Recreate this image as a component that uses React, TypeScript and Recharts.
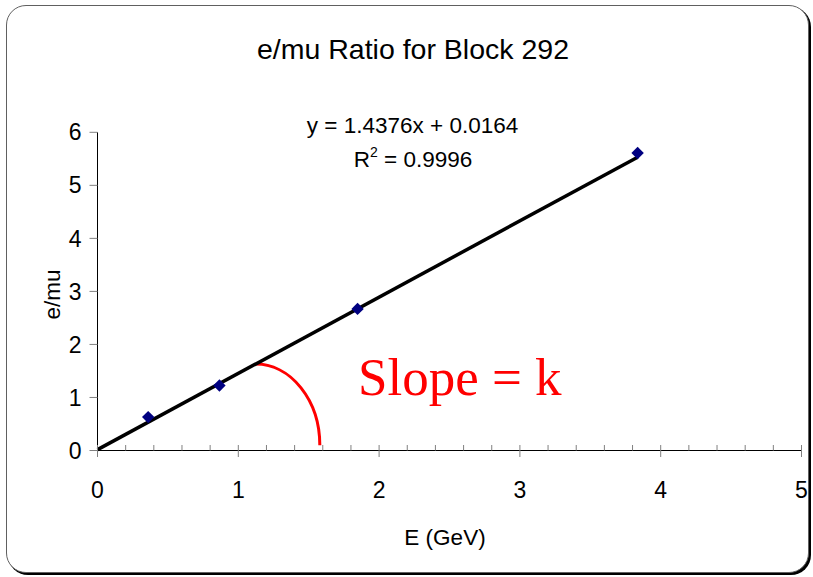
import React from 'react';
import {
  ScatterChart,
  Scatter,
  XAxis,
  YAxis,
  ReferenceLine,
  ReferenceArea,
  Customized,
} from 'recharts';

// Data
const energyGeV = [0.36, 0.866, 1.847, 3.836];
const eMuRatio = [0.63, 1.226, 2.67, 5.61];
const xTickLabels = [0, 1, 2, 3, 4, 5];
const yTickLabels = [0, 1, 2, 3, 4, 5, 6];
const trendSlope = 1.4376;
const trendIntercept = 0.0164;
const trendRange = [0, 3.836];
const arcBox = { x1: 1.123, x2: 1.579, y1: 0.1, y2: 1.63 };

const points = energyGeV.map((x, i) => ({ x, y: eMuRatio[i] }));
const minorTicks: number[] = [];
for (let i = 0; i <= 25; i++) minorTicks.push(Math.round(i * 20) / 100);

const FONT = '"Liberation Sans", Arial, sans-serif';
const SERIF = '"Liberation Serif", "Times New Roman", serif';

const Diamond = (props: any) => {
  const { cx, cy } = props;
  if (cx == null || cy == null) return null;
  const r = 6.2;
  return (
    <path
      d={`M${cx},${cy - r} L${cx + r},${cy} L${cx},${cy + r} L${cx - r},${cy} Z`}
      fill="#000080"
    />
  );
};

const XTick = (props: any) => {
  const { x, y, payload } = props;
  const v = payload.value as number;
  const major = Math.abs(v - Math.round(v)) < 1e-6;
  const isLabel = major && xTickLabels.indexOf(Math.round(v)) >= 0;
  return (
    <g>
      <line
        x1={x}
        x2={x}
        y1={y - 5.5}
        y2={major ? y + 6.5 : y}
        stroke="#808080"
        strokeWidth={1}
      />
      {isLabel && (
        <text x={x} y={y + 47.5} textAnchor="middle" fontSize={23} fontFamily={FONT} fill="#000">
          {v}
        </text>
      )}
    </g>
  );
};

const Annotations = () => (
  <g>
    <text x={413} y={59} textAnchor="middle" fontSize={28.5} fontFamily={FONT} fill="#000">
      e/mu Ratio for Block 292
    </text>
    <text x={412.5} y={133} textAnchor="middle" fontSize={22.5} fontFamily={FONT} fill="#000">
      y = 1.4376x + 0.0164
    </text>
    <text x={413} y={167} textAnchor="middle" fontSize={22.5} fontFamily={FONT} fill="#000">
      R
      <tspan dy={-10} fontSize={14}>
        2
      </tspan>
      <tspan dy={10}> = 0.9996</tspan>
    </text>
    <text x={358} y={395} fontSize={53} fontFamily={SERIF} fill="#ff0000">
      Slope = k
    </text>
    <text x={445} y={545} textAnchor="middle" fontSize={22.5} fontFamily={FONT} fill="#000">
      E (GeV)
    </text>
    <text
      x={60}
      y={294.5}
      textAnchor="middle"
      fontSize={22.5}
      fontFamily={FONT}
      fill="#000"
      transform="rotate(-90 60 294.5)"
    >
      e/mu
    </text>
  </g>
);

const ArcShape = (p: any) => {
  const { x, y, width, height } = p;
  if (x == null) return null;
  return (
    <path
      d={`M${x},${y} A${width},${height} 0 0 1 ${x + width},${y + height}`}
      stroke="#ff0000"
      strokeWidth={3}
      fill="none"
    />
  );
};

export default function App() {
  return (
    <div style={{ position: 'absolute', left: 0, top: 0, width: 813, height: 577 }}>
      <div
        style={{
          position: 'absolute',
          left: 6,
          top: 5,
          width: 801,
          height: 566,
          border: '1.5px solid #606060',
          borderRadius: 20,
          boxShadow: '2px 2px 0 #000',
          background: '#fff',
        }}
      />
      <div style={{ position: 'absolute', left: 0, top: 0 }}>
        <ScatterChart
          width={813}
          height={577}
          margin={{ top: 132.3, right: 11.5, bottom: 86.5, left: 37.5 }}
        >
          <XAxis
            type="number"
            dataKey="x"
            domain={[0, 5]}
            ticks={minorTicks}
            interval={0}
            tick={<XTick />}
            tickLine={false}
            tickSize={0}
            tickMargin={0}
            axisLine={{ stroke: '#000', strokeWidth: 1 }}
            height={40}
            allowDataOverflow
          />
          <YAxis
            type="number"
            dataKey="y"
            domain={[0, 6]}
            ticks={yTickLabels}
            interval={0}
            width={60}
            tickSize={8}
            tickMargin={8}
            tickLine={{ stroke: '#808080' }}
            axisLine={{ stroke: '#000', strokeWidth: 1 }}
            tick={{ fontSize: 23, fontFamily: FONT, fill: '#000' }}
            allowDataOverflow
          />
          <Scatter data={points} shape={<Diamond />} isAnimationActive={false} />
          <ReferenceLine
            segment={[
              { x: trendRange[0], y: trendSlope * trendRange[0] + trendIntercept },
              { x: trendRange[1], y: trendSlope * trendRange[1] + trendIntercept },
            ]}
            stroke="#000"
            strokeWidth={3.5}
            ifOverflow="visible"
          />
          <ReferenceArea
            x1={arcBox.x1}
            x2={arcBox.x2}
            y1={arcBox.y1}
            y2={arcBox.y2}
            shape={<ArcShape />}
            ifOverflow="visible"
          />
          <Customized component={<Annotations />} />
        </ScatterChart>
      </div>
    </div>
  );
}
